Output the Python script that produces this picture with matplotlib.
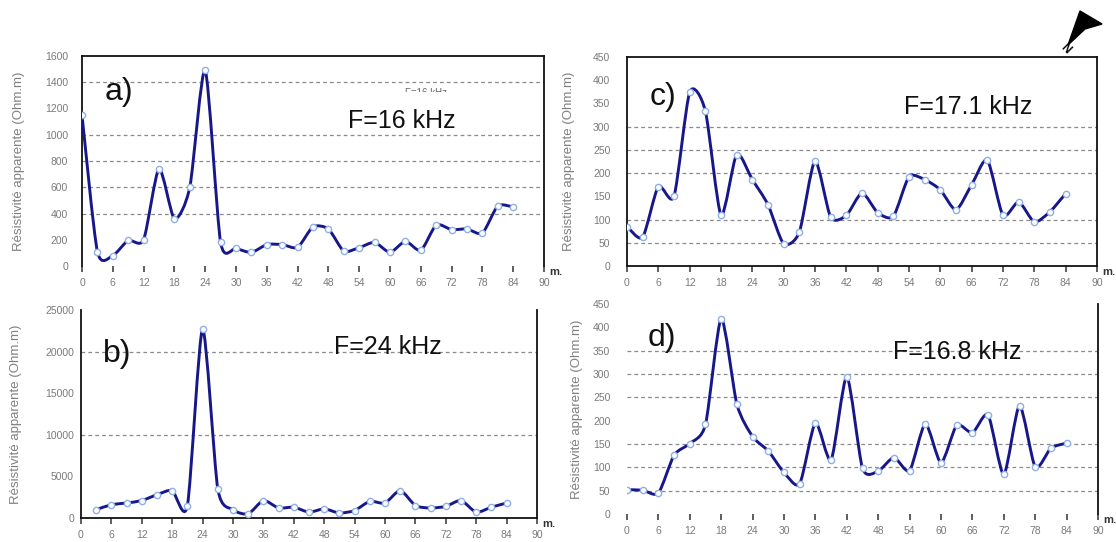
import numpy as np
import matplotlib
matplotlib.use('Agg')
import matplotlib.pyplot as plt
from matplotlib.path import Path
from matplotlib.patches import PathPatch, Polygon
from matplotlib.transforms import Bbox, TransformedBbox

plt.rcParams['font.family'] = ['Liberation Sans', 'DejaVu Sans']

# ---------------- data ----------------
dist_full = [0, 3, 6, 9, 12, 15, 18, 21, 24, 27, 30, 33, 36, 39, 42, 45, 48, 51,
             54, 57, 60, 63, 66, 69, 72, 75, 78, 81, 84]
dist_b = dist_full[1:]

res_a = [1150, 110, 80, 195, 200, 740, 360, 600, 1490, 180, 135, 104, 163, 163,
         142, 298, 282, 114, 140, 180, 104, 188, 119, 312, 277, 282, 251, 457, 450]
res_b = [1000, 1600, 1800, 2100, 2800, 3300, 1500, 22700, 3500, 1000, 500, 2100,
         1200, 1300, 700, 1100, 600, 900, 2000, 1800, 3300, 1500, 1200, 1400, 2100,
         700, 1300, 1800]
res_c = [85, 62, 171, 150, 374, 334, 110, 240, 186, 132, 48, 73, 226, 105, 109,
         157, 115, 107, 192, 186, 164, 121, 175, 228, 109, 138, 95, 117, 156]
res_d = [52, 51, 45, 126, 151, 192, 418, 235, 166, 135, 89, 65, 195, 116, 294,
         98, 92, 121, 93, 193, 110, 190, 174, 212, 85, 232, 101, 141, 152]

x_ticks = [0, 6, 12, 18, 24, 30, 36, 42, 48, 54, 60, 66, 72, 78, 84, 90]
yticks_a = [0, 200, 400, 600, 800, 1000, 1200, 1400, 1600]
yticks_b = [0, 5000, 10000, 15000, 20000, 25000]
yticks_cd = [0, 50, 100, 150, 200, 250, 300, 350, 400, 450]
grid_a = [400, 600, 800, 1000, 1400]
grid_b = [10000, 20000]
grid_c = [50, 100, 200, 250, 300]
grid_d = [50, 100, 150, 250, 300, 350]

panel_letters = ['a)', 'b)', 'c)', 'd)']
freq_labels = ['F=16 kHz', 'F=24 kHz', 'F=17.1 kHz', 'F=16.8 kHz']
ylabel_text = 'Résistivité apparente (Ohm.m)'

W, H = 1116, 542
fig = plt.figure(figsize=(W / 100, H / 100), dpi=100)


def px_axes(l, r, t, b):
    return fig.add_axes([l / W, 1 - b / H, (r - l) / W, (b - t) / H])


LINE_COL = '#17178a'
MK_EDGE = '#8fb0e6'
TICK_COL = '#7a7a7a'
TENSION = 0.72


def smooth_path(xs, ys):
    p = np.column_stack([xs, ys]).astype(float)
    ext = np.vstack([p[0], p, p[-1]])
    verts = [tuple(p[0])]
    codes = [Path.MOVETO]
    k = TENSION / 6.0
    for i in range(len(p) - 1):
        p0, p1, p2, p3 = ext[i], ext[i + 1], ext[i + 2], ext[i + 3]
        c1 = p1 + (p2 - p0) * k
        c2 = p2 - (p3 - p1) * k
        verts += [tuple(c1), tuple(c2), tuple(p2)]
        codes += [Path.CURVE4] * 3
    return Path(verts, codes)


def setup(ax, xs, ys, yticks, grid, spines, ylabel_x, ypad, letter, letter_pos,
          flabel, flabel_pos):
    ax.set_xlim(0, 90)
    ax.set_ylim(yticks[0], yticks[-1])
    for g in grid:
        ax.axhline(g, color='#8a8a8a', lw=0.9, ls=(0, (3, 2.5)), zorder=1)
    patch = PathPatch(smooth_path(xs, ys), facecolor='none', edgecolor=LINE_COL,
                      lw=2.1, zorder=3, transform=ax.transData)
    ax.add_patch(patch)
    ax.plot(xs, ys, ls='none', marker='o', ms=4.5, mfc='white', mec=MK_EDGE,
            mew=1.0, zorder=4)
    for s in ['left', 'right', 'top', 'bottom']:
        ax.spines[s].set_visible(s in spines)
        ax.spines[s].set_linewidth(1.3)
        ax.spines[s].set_color('#111111')
    ax.set_xticks(x_ticks)
    ax.set_xticklabels([str(v) for v in x_ticks])
    ax.set_yticks(yticks)
    ax.set_yticklabels([str(v) for v in yticks])
    ax.set_yticks(grid, minor=True)
    ax.tick_params(axis='y', which='major', length=0, pad=ypad, labelsize=7.5,
                   labelcolor=TICK_COL)
    ax.tick_params(axis='y', which='minor', length=6, direction='inout',
                   width=1.0, color='#333333')
    ax.tick_params(axis='x', which='major', length=4, direction='out', width=1.1,
                   pad=5, labelsize=7.5, labelcolor=TICK_COL, color='#333333')
    ax.set_ylabel(ylabel_text, fontsize=9.5, color='#808080')
    ax.yaxis.set_label_coords(ylabel_x, 0.5)
    ax.text(letter_pos[0], letter_pos[1], letter, transform=ax.transAxes,
            fontsize=23, va='center', ha='left', color='#111111')
    ax.text(flabel_pos[0], flabel_pos[1], flabel, transform=ax.transAxes,
            fontsize=18, va='center', ha='left', color='#111111')
    ax.text(1.012, -0.03, 'm.', transform=ax.transAxes, fontsize=8,
            fontweight='bold', color='#333333', ha='left', va='center')
    ax.set_facecolor('none')


ax_a = px_axes(82, 544, 56, 266)
setup(ax_a, dist_full, res_a, yticks_a, grid_a, ['left', 'top', 'right'],
      -0.123, 10, panel_letters[0], (0.05, 0.83), freq_labels[0], (0.575, 0.69))
ghost = ax_a.text(0.70, 0.800, 'F=16 kHz', transform=ax_a.transAxes,
                  fontsize=7, color='#666666', ha='left', va='bottom')
ghost.set_clip_box(TransformedBbox(Bbox([[0.6, 0.828], [0.95, 0.95]]),
                                   ax_a.transAxes))
ghost.set_clip_on(True)

ax_b = px_axes(81, 537, 310, 518)
setup(ax_b, dist_b, res_b, yticks_b, grid_b, ['left', 'bottom', 'right'],
      -0.129, 5, panel_letters[1], (0.048, 0.79), freq_labels[1], (0.555, 0.82))

ax_c = px_axes(627, 1097, 57, 266)
setup(ax_c, dist_full, res_c, yticks_cd, grid_c, ['left', 'top', 'right', 'bottom'],
      -0.11, 12, panel_letters[2], (0.049, 0.81), freq_labels[2], (0.59, 0.76))

ax_d = px_axes(627, 1098, 304, 514)
setup(ax_d, dist_full, res_d, yticks_cd, grid_d, ['right'],
      -0.093, 12, panel_letters[3], (0.043, 0.838), freq_labels[3], (0.565, 0.77))

# north arrow
arrow_px = [(1080, 11), (1102, 24), (1085, 29), (1068, 45)]
arrow = Polygon([(x / W, 1 - y / H) for x, y in arrow_px], closed=True,
                facecolor='black', edgecolor='black', transform=fig.transFigure)
fig.patches.append(arrow)
fig.text(1065 / W, 1 - 49 / H, 'N', fontsize=8.5, fontweight='bold',
         rotation=-45, ha='center', va='center')

fig.savefig('out.png', dpi=100, facecolor='white')
